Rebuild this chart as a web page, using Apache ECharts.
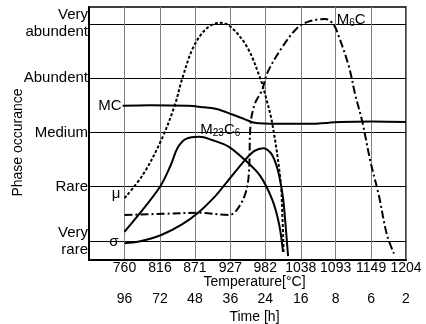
<!DOCTYPE html>
<html>
<head>
<meta charset="utf-8">
<script src="https://cdn.jsdelivr.net/npm/echarts@6/dist/echarts.min.js"></script>
<style>
    html, body {margin: 0; padding: 0; background: #fff;}
    #chart {width: 426px; height: 324px;}
</style>
</head>
<body>
<div id="chart"></div>
<script>
// axis ticks
const tempTicks = [760, 816, 871, 927, 982, 1038, 1093, 1149, 1204];
const timeLabels = ['96', '72', '48', '36', '24', '16', '8', '6', '2'];
const levelValues = [1, 2, 3, 4, 5];
const levelNames = ['Very\nrare', 'Rare', 'Medium', 'Abundent', 'Very\nabundent'];

// MC (solid)
const mcTemp = [757, 800, 860, 880, 905, 930, 950, 965, 1000, 1050, 1100, 1150, 1204];
const mcLevel = [3.49, 3.50, 3.49, 3.47, 3.43, 3.33, 3.24, 3.18, 3.16, 3.16, 3.19, 3.20, 3.19];

// M23C6 (solid)
const m23Temp = [760, 782, 816, 833, 844, 857, 878, 898, 924, 950, 974, 993, 1004, 1010];
const m23Level = [1.17, 1.48, 2.00, 2.40, 2.72, 2.88, 2.92, 2.86, 2.74, 2.49, 2.20, 1.76, 1.30, 0.80];

// sigma (solid)
const sigmaTemp = [760, 783, 818, 850, 878, 905, 924, 950, 965, 979, 990, 998, 1004, 1010, 1014, 1018];
const sigmaLevel = [0.96, 0.99, 1.11, 1.30, 1.54, 1.85, 2.12, 2.49, 2.66, 2.71, 2.63, 2.45, 2.20, 1.80, 1.30, 0.72];

// mu (dashed)
const muTemp = [760, 789, 818, 839, 851, 869, 890, 911, 927, 953, 974, 982, 993, 1006, 1009, 1011];
const muLevel = [1.79, 2.22, 2.86, 3.49, 3.99, 4.58, 4.92, 5.02, 4.95, 4.58, 4.00, 3.69, 3.17, 2.12, 1.48, 0.80];

// M6C (dash-dot)
const m6Temp = [760, 820, 878, 924, 935, 950, 956, 959, 966, 977, 985, 1006, 1032, 1050, 1077, 1090, 1098, 1114, 1124, 1135, 1148, 1161, 1174, 1185];
const m6Level = [1.48, 1.50, 1.52, 1.48, 1.54, 1.85, 2.22, 3.17, 3.54, 3.78, 4.09, 4.52, 4.92, 5.04, 5.09, 4.98, 4.77, 4.21, 3.69, 3.20, 2.46, 1.85, 1.11, 0.77];

const font = 'Liberation Sans, Arial, sans-serif';

function pairs(xs, ys) {
    return xs.map((x, i) => [x, ys[i]]);
}

function curve(name, xs, ys, type, tag) {
    return {
        name: name,
        type: 'line',
        data: pairs(xs, ys),
        smooth: 0.35,
        showSymbol: false,
        silent: true,
        lineStyle: {color: '#000', width: 2, type: type},
        markPoint: tag ? {
            symbol: 'circle',
            symbolSize: 0,
            silent: true,
            data: [{coord: [xs[tag.i], ys[tag.i]], label: tag.label}]
        } : undefined
    };
}

const subRich = {
    s: {fontSize: 10, fontFamily: font, color: '#000', verticalAlign: 'bottom', padding: [7, 0, 0, 0]}
};

const chart = echarts.init(document.getElementById('chart'));
chart.setOption({
    animation: false,
    textStyle: {fontFamily: font},
    grid: {left: 89, right: 20, top: 7, bottom: 64, outerBoundsMode: 'none', containLabel: false,
        show: true, borderColor: '#000', borderWidth: 1.5},
    xAxis: [
        {
            type: 'value', min: 704, max: 1204,
            name: 'Temperature[°C]', nameLocation: 'middle', nameGap: 15, nameMoveOverlap: false,
            nameTextStyle: {fontSize: 14, color: '#000', padding: [0, 0, 0, 14]},
            axisLine: {lineStyle: {color: '#000', width: 2}},
            axisTick: {show: false, customValues: tempTicks},
            axisLabel: {customValues: tempTicks, fontSize: 14, color: '#000', margin: 1,
                formatter: v => String(v)},
            splitLine: {show: true, lineStyle: {color: '#808080', width: 1}}
        },
        {
            type: 'value', min: 704, max: 1204, position: 'bottom', offset: 31,
            name: 'Time [h]', nameLocation: 'middle', nameGap: 19, nameMoveOverlap: false,
            nameTextStyle: {fontSize: 14, color: '#000', padding: [0, 0, 0, 14]},
            axisLine: {show: false},
            axisTick: {show: false, customValues: tempTicks},
            axisLabel: {customValues: tempTicks, fontSize: 14, color: '#000', margin: 1,
                formatter: v => timeLabels[tempTicks.indexOf(v)]},
            splitLine: {show: false}
        }
    ],
    yAxis: {
        type: 'value', min: 0.65, max: 5.31,
        name: 'Phase occurance', nameLocation: 'middle', nameGap: 64, nameRotate: 90, nameMoveOverlap: false,
        nameTextStyle: {fontSize: 14, color: '#000', padding: [0, 18, 0, 0]},
        axisLine: {show: true, lineStyle: {color: '#000', width: 2}},
        axisTick: {show: false, customValues: levelValues},
        axisLabel: {customValues: levelValues, fontSize: 15, lineHeight: 17, color: '#000', margin: 1,
            formatter: v => levelNames[levelValues.indexOf(v)]},
        splitLine: {show: true, lineStyle: {color: '#000', width: 1}}
    },
    series: [
        curve('MC', mcTemp, mcLevel, 'solid', {i: 0, label: {show: true, position: 'left', distance: 1, fontSize: 15, color: '#000', formatter: 'MC'}}),
        curve('M23C6', m23Temp, m23Level, 'solid', {i: 6, label: {show: true, position: 'right', distance: 1, offset: [0, -7], fontSize: 15, color: '#000', formatter: 'M{s|23}C{s|6}', rich: subRich}}),
        curve('σ', sigmaTemp, sigmaLevel, 'solid', {i: 0, label: {show: true, position: 'left', distance: 6, offset: [0, -1], fontSize: 15, color: '#000', formatter: 'σ'}}),
        curve('μ', muTemp, muLevel, [3, 2], {i: 0, label: {show: true, position: 'left', distance: 4, offset: [0, -4], fontSize: 15, color: '#000', formatter: 'μ'}}),
        curve('M6C', m6Temp, m6Level, [8, 3, 2, 3], {i: 15, label: {show: true, position: 'right', distance: 3, offset: [0, -5], fontSize: 15, color: '#000', formatter: 'M{s|6}C', rich: subRich}})
    ]
});
</script>
</body>
</html>
